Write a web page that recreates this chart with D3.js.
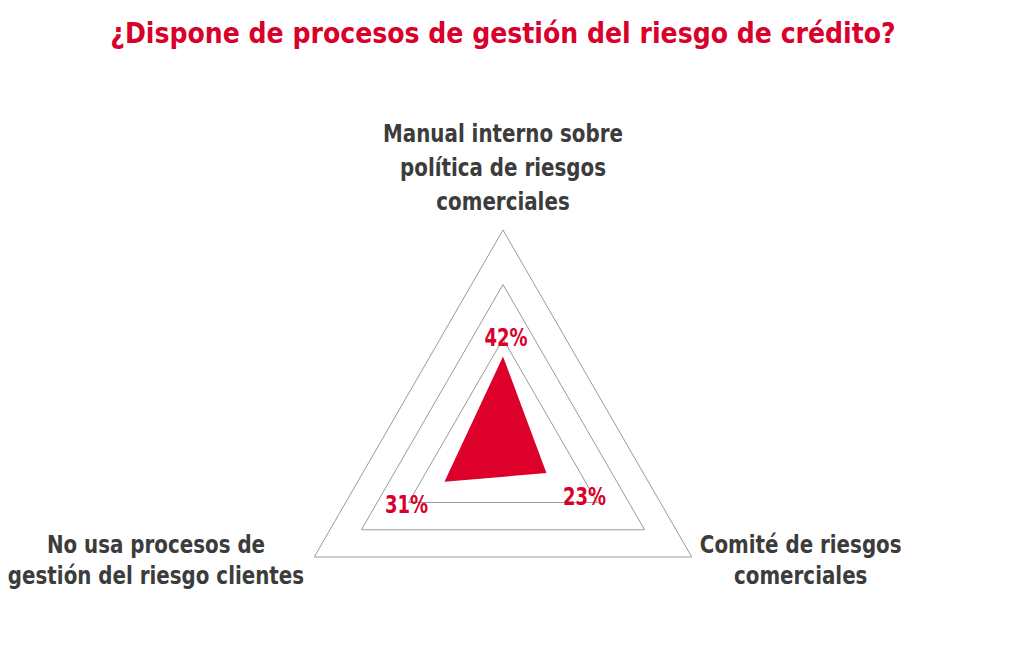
<!DOCTYPE html>
<meta charset="utf-8">
<head>
  <title>Radar riesgo de credito</title>
</head>
<body style="margin:0;background:#fff">
<style>
.title {
  font: bold 28px "DejaVu Sans Condensed", "Liberation Sans Narrow", sans-serif;
  fill: #d9002b;
  text-anchor: middle;
}
.axis-label {
  font: bold 24px "DejaVu Sans Condensed", "Liberation Sans Narrow", sans-serif;
  fill: #3c3c3c;
  text-anchor: middle;
}
.value-label {
  font: bold 25px "DejaVu Sans Condensed", "Liberation Sans Narrow", sans-serif;
  fill: #d9002b;
  text-anchor: middle;
}
.grid {
  fill: none;
  stroke: #9a9a9a;
  stroke-width: 1;
}
</style>
<svg width="1035" height="657"></svg>
<script src="https://d3js.org/d3.v7.min.js"></script>
<script>

var titleText = "¿Dispone de procesos de gestión del riesgo de crédito?";

// categories, clockwise from the top
var categories = [
  ["Manual interno sobre", "política de riesgos", "comerciales"],
  ["Comité de riesgos", "comerciales"],
  ["No usa procesos de", "gestión del riesgo clientes"]
];
var values = [42, 23, 31];
var gridLevels = [50, 75, 100];

var svg = d3.select("svg"),
    cx = 503,
    cy = 448,
    maxR = 218;

var r = d3.scaleLinear().domain([0, 100]).range([0, maxR]);
var angle = d3.scaleLinear().domain([0, categories.length]).range([0, 2 * Math.PI]);

function px(i, v) { return cx + r(v) * Math.sin(angle(i)); }
function py(i, v) { return cy - r(v) * Math.cos(angle(i)); }

svg.append("text")
    .attr("class", "title")
    .attr("x", cx)
    .attr("y", 43)
    .text(titleText);

var g = svg.append("g").attr("transform", "translate(" + cx + "," + cy + ")");

var radial = d3.lineRadial()
    .angle(function(d, i) { return angle(i); })
    .radius(function(d) { return r(d); })
    .curve(d3.curveLinearClosed);

// grid triangles
g.selectAll(".grid")
    .data(gridLevels)
    .enter().append("path")
    .attr("class", "grid")
    .attr("d", function(level) { return radial(categories.map(function() { return level; })); });

// data area
g.append("path")
    .attr("d", radial(values))
    .attr("fill", "#dc002b");

// value labels, placed around the inner grid ring
var labelNudge = [[3, -2], [-13, -6], [-2, 2]];
svg.selectAll(".value-label")
    .data(values)
    .enter().append("text")
    .attr("class", "value-label")
    .attr("transform", function(d, i) {
      return "translate(" + (px(i, gridLevels[0]) + labelNudge[i][0]) + "," +
        (py(i, gridLevels[0]) + labelNudge[i][1]) + ") scale(0.8,1)";
    })
    .attr("dy", "0.35em")
    .text(function(d) { return d + "%"; });

// axis labels
var sx = 0.92;
categories.forEach(function(lines, i) {
  var lineH = i === 0 ? 34 : 31;
  var t = svg.append("text").attr("class", "axis-label");
  lines.forEach(function(s, j) {
    t.append("tspan").attr("x", 0).attr("dy", j ? lineH : 0).text(s);
  });
  var w = sx * d3.max(t.selectAll("tspan").nodes(), function(n) { return n.getComputedTextLength(); });
  var vx = px(i, 100), vy = py(i, 100), x, y;
  if (i === 0) {
    x = vx;
    y = vy - 20 - (lines.length - 1) * lineH;
  } else if (i === 1) {
    x = vx + 8 + w / 2;
    y = vy - 4;
  } else {
    x = vx - 10 - w / 2;
    y = vy - 4;
  }
  t.attr("transform", "translate(" + x + "," + y + ") scale(" + sx + ",1)");
});

</script>
</body>
